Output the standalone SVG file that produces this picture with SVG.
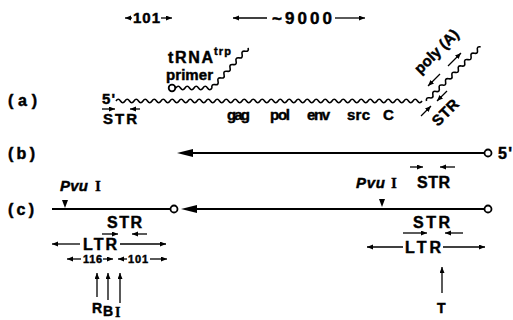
<svg xmlns="http://www.w3.org/2000/svg" width="513" height="320" viewBox="0 0 513 320">
<style>
.t{font-family:"Liberation Sans",Arial,sans-serif;font-weight:bold;fill:#000;stroke:#000;stroke-width:0.45}
.ser{font-family:"Liberation Serif","Times New Roman",serif;font-weight:bold;fill:#000;stroke:#000;stroke-width:0.3}
.it{font-style:italic}
.ln{stroke:#000;stroke-width:1.8;fill:none}
.ar{stroke:#000;stroke-width:1.3;fill:none;marker-end:url(#ah)}
.wv{stroke:#000;stroke-width:1.6;fill:none}
.oc{fill:#fff;stroke:#000;stroke-width:1.8}
</style>
<defs>
<marker id="ah" markerUnits="userSpaceOnUse" markerWidth="7" markerHeight="6" refX="6" refY="2.5" orient="auto">
<path d="M0,0 L6,2.5 L0,5 z" fill="#000"/>
</marker>
</defs>
<rect width="513" height="320" fill="#fff"/>

<g id="scale">
<line class="ar" x1="132" y1="18" x2="125" y2="18"/>
<text class="t" x="133" y="23" font-size="15" textLength="27">101</text>
<line class="ar" x1="161" y1="18" x2="172" y2="18"/>
<line class="ar" x1="267" y1="18" x2="233" y2="18"/>
<text class="t" x="272" y="24" font-size="17" textLength="60">~9000</text>
<line class="ar" x1="335" y1="18" x2="365" y2="18"/>
</g>

<g id="row-a">
<text class="t" x="8" y="106" font-size="16" textLength="29">(a)</text>
<text class="t" x="102" y="104" font-size="15" textLength="13">5'</text>
<path class="wv" d="M116,101 q2.25,-3.4 4.5,0 t4.5,0t4.5,0t4.5,0t4.5,0t4.5,0t4.5,0t4.5,0t4.5,0t4.5,0 t4.5,0t4.5,0t4.5,0t4.5,0t4.5,0t4.5,0t4.5,0t4.5,0t4.5,0t4.5,0 t4.5,0t4.5,0t4.5,0t4.5,0t4.5,0t4.5,0t4.5,0t4.5,0t4.5,0t4.5,0 t4.5,0t4.5,0t4.5,0t4.5,0t4.5,0t4.5,0t4.5,0t4.5,0t4.5,0t4.5,0 t4.5,0t4.5,0t4.5,0t4.5,0t4.5,0t4.5,0t4.5,0t4.5,0t4.5,0t4.5,0 t4.5,0t4.5,0t4.5,0t4.5,0t4.5,0t4.5,0t4.5,0t4.5,0t4.5,0t4.5,0 t4.5,0t4.5,0t4.5,0t4.5,0t4.5,0t4.5,0t4.5,0t4.5,0"/>
<path class="wv" transform="translate(426.5,101) rotate(-45)" d="M0,0 q2.25,-3.4 4.5,0 t4.5,0t4.5,0t4.5,0t4.5,0t4.5,0t4.5,0t4.5,0t4.5,0t4.5,0 t4.5,0t4.5,0t4.5,0t4.5,0t4.5,0t4.5,0t4.5,0"/>
<line class="ar" x1="102" y1="109" x2="115" y2="109"/>
<line class="ar" x1="140" y1="109" x2="130" y2="109"/>
<text class="t" x="103" y="124" font-size="15" textLength="34">STR</text>
<text class="t" x="227" y="120" font-size="15" textLength="23">gag</text>
<text class="t" x="270" y="120" font-size="15" textLength="20">pol</text>
<text class="t" x="307" y="120" font-size="15" textLength="23">env</text>
<text class="t" x="347" y="120" font-size="15" textLength="23">src</text>
<text class="t" x="383" y="120" font-size="15" textLength="10">C</text>
<text class="t" transform="translate(440,55) rotate(-45)" text-anchor="middle" font-size="15" textLength="56">poly (A)</text>
<line class="ar" x1="440" y1="74" x2="428" y2="86"/>
<line class="ar" x1="448" y1="66" x2="461" y2="53"/>
<line class="ar" x1="421" y1="116" x2="431" y2="106"/>
<line class="ar" x1="447" y1="91" x2="437" y2="101"/>
<text class="t" transform="translate(449,116) rotate(-45)" text-anchor="middle" font-size="15" textLength="31">STR</text>
</g>

<g id="primer">
<text class="t" x="168" y="63" font-size="16" textLength="45">tRNA</text>
<text class="t" x="214" y="55" font-size="11" textLength="17">trp</text>
<text class="t" x="166" y="80" font-size="15" textLength="47">primer</text>
<circle class="oc" cx="172" cy="88" r="3.3" stroke-width="1.6"/>
<path class="wv" d="M176,88 q2.25,-3.4 4.5,0 t4.5,0t4.5,0t4.5,0t4.5,0t4.5,0t4.5,0t4.5,0"/>
<path class="wv" transform="translate(212,88) rotate(-48)" d="M0,0 q2.25,-3.4 4.5,0 t4.5,0t4.5,0t4.5,0t4.5,0t4.5,0t4.5,0t4.5,0t4.5,0t4.5,0t4.5,0t4.5,0"/>
</g>

<g id="row-b">
<text class="t" x="8" y="159" font-size="16" textLength="27">(b)</text>
<line class="ln" x1="190" y1="153" x2="485" y2="153"/>
<polygon points="177,153 193,149 193,157" fill="#000"/>
<circle class="oc" cx="488" cy="153" r="3.5"/>
<text class="t" x="498" y="159" font-size="16" textLength="14">5'</text>
</g>

<g id="row-c">
<text class="t" x="8" y="215" font-size="16" textLength="26">(c)</text>
<line class="ln" x1="52" y1="209" x2="171" y2="209"/>
<circle class="oc" cx="174" cy="209" r="3.5"/>
<line class="ln" x1="195" y1="209" x2="485" y2="209"/>
<polygon points="181,209 197,205 197,213" fill="#000"/>
<circle class="oc" cx="488" cy="209" r="3.5"/>
</g>

<g id="left-ltr">
<text class="t it" x="60" y="191" font-size="15" textLength="28">Pvu</text>
<text class="ser" x="95" y="191" font-size="15" textLength="10">I</text>
<polygon points="62,200 68,200 65,208" fill="#000"/>
<text class="t" x="107" y="228" font-size="16" textLength="35">STR</text>
<line class="ar" x1="102" y1="234" x2="118" y2="234"/>
<line class="ar" x1="147" y1="234" x2="132" y2="234"/>
<line class="ar" x1="80" y1="244" x2="52" y2="244"/>
<text class="t" x="83" y="250" font-size="16" textLength="34">LTR</text>
<line class="ar" x1="120" y1="244" x2="166" y2="244"/>
<line class="ar" x1="81" y1="259" x2="67" y2="259"/>
<text class="t" x="83" y="263" font-size="11" textLength="19">116</text>
<line class="ar" x1="103" y1="259" x2="113" y2="259"/>
<line class="ar" x1="127" y1="259" x2="118" y2="259"/>
<text class="t" x="128" y="263" font-size="11" textLength="20">101</text>
<line class="ar" x1="150" y1="259" x2="167" y2="259"/>
<line class="ar" x1="97" y1="297" x2="97" y2="273"/>
<line class="ar" x1="108" y1="300" x2="108" y2="273"/>
<line class="ar" x1="120" y1="303" x2="120" y2="273"/>
<text class="t" x="92" y="313" font-size="14" textLength="10">R</text>
<text class="t" x="103" y="316" font-size="14" textLength="10">B</text>
<text class="ser" x="115" y="317" font-size="14" textLength="10">I</text>
</g>

<g id="right-ltr">
<line class="ar" x1="410" y1="167" x2="423" y2="167"/>
<line class="ar" x1="455" y1="167" x2="440" y2="167"/>
<text class="t it" x="356" y="188" font-size="15" textLength="29">Pvu</text>
<text class="ser" x="391" y="188" font-size="15" textLength="10">I</text>
<text class="t" x="417" y="188" font-size="16" textLength="33">STR</text>
<polygon points="379,199 385,199 382,207" fill="#000"/>
<text class="t" x="413" y="228" font-size="16" textLength="37">STR</text>
<line class="ar" x1="403" y1="233" x2="427" y2="233"/>
<line class="ar" x1="463" y1="233" x2="445" y2="233"/>
<line class="ar" x1="403" y1="247" x2="367" y2="247"/>
<text class="t" x="405" y="253" font-size="16" textLength="36">LTR</text>
<line class="ar" x1="443" y1="247" x2="485" y2="247"/>
<line class="ar" x1="442" y1="293" x2="442" y2="267"/>
<text class="t" x="437" y="313" font-size="14" textLength="10">T</text>
</g>
</svg>
